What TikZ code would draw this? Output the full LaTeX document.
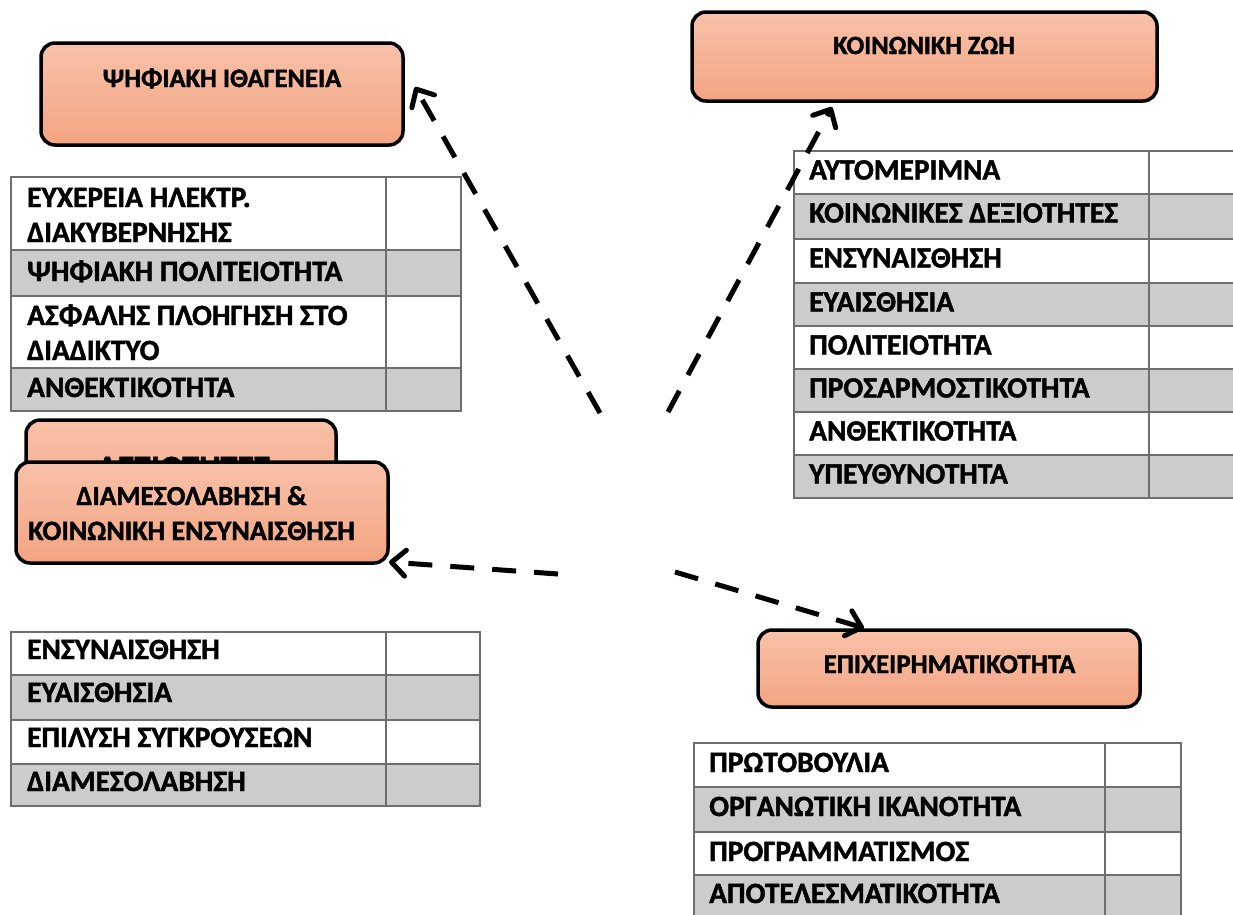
\documentclass[tikz,border=0pt]{standalone}
\usepackage{fontspec}
\setmainfont{Carlito}[BoldFeatures={FakeBold=1.5}]
\usetikzlibrary{arrows.meta}
\definecolor{boxtop}{RGB}{248,193,169}
\definecolor{boxbot}{RGB}{244,165,130}
\definecolor{gridgray}{RGB}{110,110,110}
\definecolor{cellgray}{RGB}{204,204,204}
\newcommand\mytab{\fontsize{29.4}{34}\selectfont\bfseries}
\newcommand\myboxsz[1]{\fontsize{#1}{30}\selectfont\bfseries}
\newcommand\trow[6]{\draw[#6] (#1,#4) rectangle (#2,#5); \draw[#6] (#2,#4) rectangle (#3,#5);}
\tikzset{
  cw/.style={fill=white, draw=gridgray, line width=2.5},
  cg/.style={fill=cellgray, draw=gridgray, line width=2.5},
  ttext/.style={anchor=base west, inner sep=0, font=\mytab},
  btext/.style={anchor=base, inner sep=0, font=\myboxsz{#1}},
  btext/.default=26.5,
  pbox/.style={draw=black, line width=3.5, rounded corners=14, top color=boxtop, bottom color=boxbot, inner sep=0},
  conn/.style={line width=5, dash pattern=on 24 off 18, -{Straight Barb[length=14, width=26, round]}}
}
\begin{document}
\begin{tikzpicture}[x=1pt,y=-1pt]
\useasboundingbox (0,0) rectangle (1233,914);
\clip (0,0) rectangle (1233,914);
\fill[white] (0,0) rectangle (1233,914);

% boxes
\node[pbox, minimum width=362, minimum height=102] (psi) at (222,94) {};
\node[btext=26.6] (psit) at (222,87) {ΨΗΦΙΑΚΗ ΙΘΑΓΕΝΕΙΑ};
\node[pbox, minimum width=465, minimum height=89] (koin) at (924.5,56.5) {};
\node[btext=26.3] (koint) at (924,54) {ΚΟΙΝΩΝΙΚΗ ΖΩΗ};
\node[pbox, minimum width=310, minimum height=100] (back) at (181,470) {};
\node[btext=34] (backt) at (184,479) {ΔΕΞΙΟΤΗΤΕΣ};
\node[pbox, minimum width=372, minimum height=101] (front) at (202,512.5) {};
\node[btext=27.5] (frontt1) at (191.5,505) {ΔΙΑΜΕΣΟΛΑΒΗΣΗ \&};
\node[btext=28] (frontt2) at (191.5,540) {ΚΟΙΝΩΝΙΚΗ ΕΝΣΥΝΑΙΣΘΗΣΗ};
\node[pbox, minimum width=382, minimum height=77] (epix) at (949,668.5) {};
\node[btext=27] (epixt) at (949.5,673) {ΕΠΙΧΕΙΡΗΜΑΤΙΚΟΤΗΤΑ};

% table A
\trow{11}{386}{461}{177}{250}{cw}
\trow{11}{386}{461}{250}{296}{cg}
\trow{11}{386}{461}{296}{368}{cw}
\trow{11}{386}{461}{368}{411}{cg}
\node[ttext] (a1) at (27,207) {ΕΥΧΕΡΕΙΑ ΗΛΕΚΤΡ.};
\node[ttext] (a1b) at (27,242) {ΔΙΑΚΥΒΕΡΝΗΣΗΣ};
\node[ttext] (a2) at (27,281) {ΨΗΦΙΑΚΗ ΠΟΛΙΤΕΙΟΤΗΤΑ};
\node[ttext] (a3) at (27,325) {ΑΣΦΑΛΗΣ ΠΛΟΗΓΗΣΗ ΣΤΟ};
\node[ttext] (a3b) at (27,360) {ΔΙΑΔΙΚΤΥΟ};
\node[ttext] (a4) at (27,397) {ΑΝΘΕΚΤΙΚΟΤΗΤΑ};

% table B
\trow{794}{1149}{1260}{151}{194}{cw}
\trow{794}{1149}{1260}{194}{239}{cg}
\trow{794}{1149}{1260}{239}{283}{cw}
\trow{794}{1149}{1260}{283}{326}{cg}
\trow{794}{1149}{1260}{326}{369}{cw}
\trow{794}{1149}{1260}{369}{412}{cg}
\trow{794}{1149}{1260}{412}{455}{cw}
\trow{794}{1149}{1260}{455}{498}{cg}
\node[ttext] (b1) at (809,179.5) {ΑΥΤΟΜΕΡΙΜΝΑ};
\node[ttext] (b2) at (809,222.5) {ΚΟΙΝΩΝΙΚΕΣ ΔΕΞΙΟΤΗΤΕΣ};
\node[ttext] (b3) at (809,267.5) {ΕΝΣΥΝΑΙΣΘΗΣΗ};
\node[ttext] (b4) at (809,311.5) {ΕΥΑΙΣΘΗΣΙΑ};
\node[ttext] (b5) at (809,354.5) {ΠΟΛΙΤΕΙΟΤΗΤΑ};
\node[ttext] (b6) at (809,397.5) {ΠΡΟΣΑΡΜΟΣΤΙΚΟΤΗΤΑ};
\node[ttext] (b7) at (809,440.5) {ΑΝΘΕΚΤΙΚΟΤΗΤΑ};
\node[ttext] (b8) at (809,483.5) {ΥΠΕΥΘΥΝΟΤΗΤΑ};

% table C
\trow{11}{386}{480}{632}{675}{cw}
\trow{11}{386}{480}{675}{720}{cg}
\trow{11}{386}{480}{720}{764}{cw}
\trow{11}{386}{480}{764}{806}{cg}
\node[ttext] (c1) at (27,659) {ΕΝΣΥΝΑΙΣΘΗΣΗ};
\node[ttext] (c2) at (27,702) {ΕΥΑΙΣΘΗΣΙΑ};
\node[ttext] (c3) at (27,747) {ΕΠΙΛΥΣΗ ΣΥΓΚΡΟΥΣΕΩΝ};
\node[ttext] (c4) at (27,791) {ΔΙΑΜΕΣΟΛΑΒΗΣΗ};

% table D
\trow{694}{1105}{1181}{743}{787}{cw}
\trow{694}{1105}{1181}{787}{832}{cg}
\trow{694}{1105}{1181}{832}{875}{cw}
\trow{694}{1105}{1181}{875}{930}{cg}
\node[ttext] (d1) at (709,772) {ΠΡΩΤΟΒΟΥΛΙΑ};
\node[ttext] (d2) at (709,816) {ΟΡΓΑΝΩΤΙΚΗ ΙΚΑΝΟΤΗΤΑ};
\node[ttext] (d3) at (709,861) {ΠΡΟΓΡΑΜΜΑΤΙΣΜΟΣ};
\node[ttext] (d4) at (709,903) {ΑΠΟΤΕΛΕΣΜΑΤΙΚΟΤΗΤΑ};

% connectors
\coordinate (s1) at (600,413); \coordinate (t1) at (415,87);
\coordinate (s2) at (668,412); \coordinate (t2) at (832,107);
\coordinate (s3) at (558,574); \coordinate (t3) at (389,562);
\coordinate (s4) at (675,572); \coordinate (t4) at (864,628);
\draw[conn] (s1) -- (t1);
\draw[conn] (s2) -- (t2);
\draw[conn] (s3) -- (t3);
\draw[conn] (s4) -- (t4);
\end{tikzpicture}
\end{document}
